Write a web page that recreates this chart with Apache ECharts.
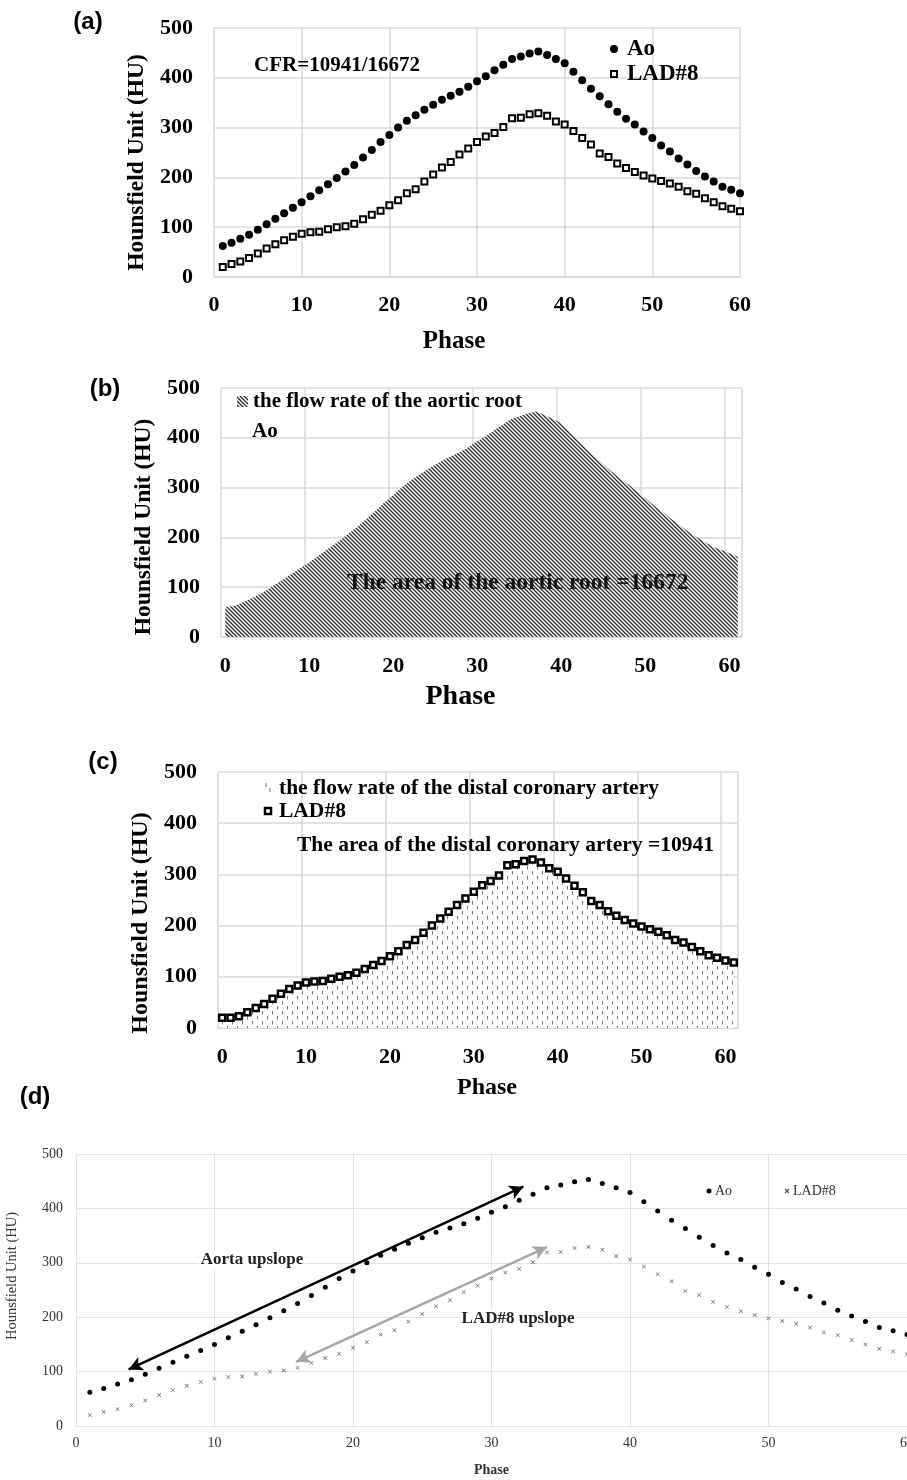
<!DOCTYPE html>
<html>
<head>
<meta charset="utf-8">
<script src="https://cdn.jsdelivr.net/npm/echarts@6.0.0/dist/echarts.min.js"></script>
<style>
  html, body { margin: 0; padding: 0; background: #fff; }
  #main { width: 907px; height: 1480px; }
</style>
</head>
<body>
<div id="main"></div>
<script>
// phases 1..60 (panels a and d)
const phases = [1, 2, 3, 4, 5, 6, 7, 8, 9, 10, 11, 12, 13, 14, 15, 16, 17, 18, 19, 20,
  21, 22, 23, 24, 25, 26, 27, 28, 29, 30, 31, 32, 33, 34, 35, 36, 37, 38, 39, 40,
  41, 42, 43, 44, 45, 46, 47, 48, 49, 50, 51, 52, 53, 54, 55, 56, 57, 58, 59, 60]

// aortic root (Ao), HU
const aoHU = [62, 69, 77, 85, 95, 106, 117, 128, 139, 150, 162, 174, 186, 199, 212, 225, 240, 255, 271, 285,
  300, 314, 325, 336, 346, 356, 364, 372, 382, 393, 403, 415, 426, 438, 443, 449, 453, 446, 438, 429,
  412, 395, 378, 363, 347, 332, 318, 306, 292, 279, 264, 252, 238, 226, 213, 202, 192, 181, 175, 168]

// distal coronary artery (LAD#8), HU
const ladHU = [20, 26, 31, 38, 47, 57, 66, 74, 81, 87, 90, 91, 96, 100, 102, 107, 116, 125, 133, 144,
  154, 168, 176, 192, 206, 220, 231, 246, 258, 271, 282, 289, 301, 319, 320, 327, 329, 324, 312, 306,
  293, 279, 266, 248, 241, 228, 219, 211, 204, 198, 193, 188, 181, 172, 167, 158, 150, 142, 137, 132]

// panels b and c use a category axis 0..61
const areaCats = [0, 1, 2, 3, 4, 5, 6, 7, 8, 9, 10, 11, 12, 13, 14, 15, 16, 17, 18, 19, 20,
  21, 22, 23, 24, 25, 26, 27, 28, 29, 30, 31, 32, 33, 34, 35, 36, 37, 38, 39, 40,
  41, 42, 43, 44, 45, 46, 47, 48, 49, 50, 51, 52, 53, 54, 55, 56, 57, 58, 59, 60, 61]

const aoAreaHU = [60, 62, 69, 77, 85, 95, 106, 117, 128, 139, 150, 162, 174, 186, 199, 212, 225, 240, 255, 271, 285,
  300, 314, 325, 336, 346, 356, 364, 372, 382, 393, 403, 415, 426, 438, 443, 449, 453, 446, 438, 429,
  412, 395, 378, 363, 347, 332, 318, 306, 292, 279, 264, 252, 238, 226, 213, 202, 192, 181, 175, 168, 161]

const ladAreaHU = [20, 20, 23, 31, 39, 47, 57, 67, 76, 83, 89, 91, 92, 96, 100, 103, 108, 115, 123, 131, 140,
  150, 162, 172, 186, 200, 214, 227, 240, 253, 266, 279, 287, 298, 318, 320, 326, 329, 323, 312, 305,
  292, 278, 265, 248, 240, 228, 219, 211, 204, 198, 193, 188, 181, 172, 167, 158, 150, 142, 137, 132, 128]

// upslope arrows in panel d (phase, HU)
const aoUpslope = [[3.8, 104], [32.3, 440]]
const ladUpslope = [[15.9, 118], [34.0, 329]]

const serif = 'Liberation Serif'
const gridColor = '#d9d9d9'

function hatchCanvas() {
  const c = document.createElement('canvas')
  c.width = 4
  c.height = 4
  const g = c.getContext('2d')
  g.fillStyle = '#fff'
  g.fillRect(0, 0, 4, 4)
  g.strokeStyle = '#2e2e2e'
  g.lineWidth = 1.3
  g.beginPath()
  g.moveTo(-1, -1); g.lineTo(5, 5)
  g.moveTo(-1, 3); g.lineTo(1, 5)
  g.moveTo(3, -1); g.lineTo(5, 1)
  g.stroke()
  return c
}

function dashCanvas() {
  const c = document.createElement('canvas')
  c.width = 10
  c.height = 10
  const g = c.getContext('2d')
  g.fillStyle = '#fff'
  g.fillRect(0, 0, 10, 10)
  g.strokeStyle = '#777'
  g.lineWidth = 1
  g.beginPath()
  g.moveTo(2.5, 1); g.lineTo(2.5, 4.5)
  g.moveTo(7.5, 6); g.lineTo(7.5, 9.5)
  g.stroke()
  return c
}

const hatch = { image: hatchCanvas(), repeat: 'repeat' }
const dashes = { image: dashCanvas(), repeat: 'repeat' }

function boldLabel(size, margin) {
  return { margin: margin, fontFamily: serif, fontWeight: 'bold', fontSize: size, color: '#000' }
}

function yAxisBold(gridIndex, nameGap, pad, nameSize) {
  return {
    gridIndex: gridIndex,
    type: 'value',
    min: 0,
    max: 500,
    interval: 100,
    axisLine: { show: false },
    axisTick: { show: false },
    splitLine: { lineStyle: { color: gridColor, width: 1.5 } },
    axisLabel: boldLabel(22, 21),
    name: 'Hounsfield Unit (HU)',
    nameLocation: 'middle',
    nameGap: nameGap,
    nameTextStyle: { fontFamily: serif, fontWeight: 'bold', fontSize: nameSize, color: '#000', padding: pad }
  }
}

function catAxis(gridIndex, nameSize, nameGap, pad) {
  return {
    gridIndex: gridIndex,
    type: 'category',
    data: areaCats,
    boundaryGap: true,
    axisLine: { lineStyle: { color: gridColor, width: 1.5 } },
    axisTick: { show: false },
    splitLine: { show: true, interval: 9, lineStyle: { color: gridColor, width: 1.5 } },
    axisLabel: Object.assign({ interval: 9 }, boldLabel(22, 18)),
    name: 'Phase',
    nameLocation: 'middle',
    nameGap: nameGap,
    nameTextStyle: { fontFamily: serif, fontWeight: 'bold', fontSize: nameSize, color: '#000', padding: pad }
  }
}

function text(x, y, str, font, extra) {
  return {
    type: 'text',
    z: 100,
    x: x,
    y: y,
    style: Object.assign({ text: str, font: font, fill: '#000', verticalAlign: 'middle' }, extra || {})
  }
}

const chart = echarts.init(document.getElementById('main'))

chart.setOption({
  backgroundColor: '#fff',
  animation: false,
  grid: [
    { left: 214, top: 28, width: 526, height: 249, outerBoundsMode: 'none' },
    { left: 221, top: 388, width: 521, height: 249, outerBoundsMode: 'none' },
    { left: 218, top: 772, width: 520, height: 256, outerBoundsMode: 'none' },
    { left: 76, top: 1154, width: 831, height: 272, outerBoundsMode: 'none' }
  ],
  xAxis: [
    {
      gridIndex: 0,
      type: 'value',
      min: 0,
      max: 60,
      interval: 10,
      axisLine: { lineStyle: { color: gridColor, width: 1.5 } },
      axisTick: { show: false },
      splitLine: { lineStyle: { color: gridColor, width: 1.5 } },
      axisLabel: boldLabel(22, 17),
      name: 'Phase',
      nameLocation: 'middle',
      nameGap: 52,
      nameTextStyle: { fontFamily: serif, fontWeight: 'bold', fontSize: 25, color: '#000', padding: [0, 46, 0, 0] }
    },
    catAxis(1, 28, 46, [0, 42, 0, 0]),
    catAxis(2, 24, 48, [0, 0, 0, 18]),
    {
      gridIndex: 3,
      type: 'value',
      min: 0,
      max: 60,
      interval: 10,
      axisLine: { lineStyle: { color: '#e3e3e3' } },
      axisTick: { show: false },
      splitLine: { lineStyle: { color: '#e3e3e3' } },
      axisLabel: { margin: 10, fontFamily: serif, fontSize: 14, color: '#333' },
      name: 'Phase',
      nameLocation: 'middle',
      nameGap: 37,
      nameTextStyle: { fontFamily: serif, fontWeight: 'bold', fontSize: 14, color: '#333' }
    }
  ],
  yAxis: [
    yAxisBold(0, 60, [0, 20, 0, 0], 23.5),
    yAxisBold(1, 56, [0, 29, 0, 0], 23.5),
    yAxisBold(2, 56, [0, 46, 0, 0], 24),
    {
      gridIndex: 3,
      type: 'value',
      min: 0,
      max: 500,
      interval: 100,
      axisLine: { show: false },
      axisTick: { show: false },
      splitLine: { lineStyle: { color: '#e3e3e3' } },
      axisLabel: { margin: 13, fontFamily: serif, fontSize: 14, color: '#333' },
      name: 'Hounsfield Unit (HU)',
      nameLocation: 'middle',
      nameGap: 56,
      nameTextStyle: { fontFamily: serif, fontSize: 14.5, color: '#333', padding: [0, 0, 0, 28] }
    }
  ],
  series: [
    // (a)
    {
      name: 'Ao',
      type: 'scatter',
      xAxisIndex: 0,
      yAxisIndex: 0,
      data: phases.map((p, i) => [p, aoHU[i]]),
      symbol: 'circle',
      symbolSize: 8,
      itemStyle: { color: '#000', opacity: 1 }
    },
    {
      name: 'LAD#8',
      type: 'scatter',
      xAxisIndex: 0,
      yAxisIndex: 0,
      data: phases.map((p, i) => [p, ladHU[i]]),
      symbol: 'rect',
      symbolSize: 6,
      itemStyle: { color: '#fff', borderColor: '#000', borderWidth: 2, opacity: 1 }
    },
    // (b)
    {
      name: 'the flow rate of the aortic root',
      type: 'line',
      xAxisIndex: 1,
      yAxisIndex: 1,
      data: aoAreaHU,
      showSymbol: false,
      lineStyle: { width: 0 },
      areaStyle: { color: hatch, opacity: 1 }
    },
    // (c)
    {
      name: 'the flow rate of the distal coronary artery',
      type: 'line',
      xAxisIndex: 2,
      yAxisIndex: 2,
      data: ladAreaHU,
      showAllSymbol: true,
      symbol: 'rect',
      symbolSize: 6,
      lineStyle: { width: 0 },
      itemStyle: { color: '#fff', borderColor: '#000', borderWidth: 2.5 },
      areaStyle: { color: dashes, opacity: 1 }
    },
    // (d)
    {
      name: 'Ao',
      type: 'scatter',
      xAxisIndex: 3,
      yAxisIndex: 3,
      data: phases.map((p, i) => [p, aoHU[i]]),
      symbol: 'circle',
      symbolSize: 5,
      itemStyle: { color: '#000', opacity: 1 },
      markLine: {
        silent: true,
        symbol: ['arrow', 'arrow'],
        symbolSize: [11, 14],
        label: { show: false },
        lineStyle: { color: '#000', width: 2.5, type: 'solid' },
        data: [[{ coord: aoUpslope[0] }, { coord: aoUpslope[1] }]]
      }
    },
    {
      name: 'LAD#8',
      type: 'scatter',
      xAxisIndex: 3,
      yAxisIndex: 3,
      data: phases.map((p, i) => [p, ladHU[i]]),
      symbol: 'path://M0,1L1,0L5,4L9,0L10,1L6,5L10,9L9,10L5,6L1,10L0,9L4,5Z',
      symbolSize: 4,
      itemStyle: { color: '#555', opacity: 1 },
      markLine: {
        silent: true,
        symbol: ['arrow', 'arrow'],
        symbolSize: [11, 14],
        label: { show: false },
        lineStyle: { color: '#a6a6a6', width: 2.5, type: 'solid' },
        data: [[{ coord: ladUpslope[0] }, { coord: ladUpslope[1] }]]
      }
    }
  ],
  graphic: [
    // panel letters
    text(88, 22, '(a)', 'bold 24px "Liberation Sans"', { align: 'center' }),
    text(105, 389, '(b)', 'bold 24px "Liberation Sans"', { align: 'center' }),
    text(103, 762, '(c)', 'bold 24px "Liberation Sans"', { align: 'center' }),
    text(35, 1097, '(d)', 'bold 24px "Liberation Sans"', { align: 'center' }),

    // (a) annotations and legend
    text(254, 66, 'CFR=10941/16672', 'bold 21px "Liberation Serif"'),
    { type: 'circle', z: 100, shape: { cx: 614, cy: 49, r: 4 }, style: { fill: '#000' } },
    text(627, 49, 'Ao', 'bold 23px "Liberation Serif"'),
    { type: 'rect', z: 100, shape: { x: 611, y: 71, width: 6, height: 6 }, style: { fill: '#fff', stroke: '#000', lineWidth: 2 } },
    text(627, 74, 'LAD#8', 'bold 23px "Liberation Serif"'),

    // (b) legend and area text
    { type: 'rect', z: 100, shape: { x: 237, y: 396, width: 11, height: 11 }, style: { fill: hatch } },
    text(253, 402, 'the flow rate of the aortic root', 'bold 21px "Liberation Serif"'),
    text(252, 432, 'Ao', 'bold 21px "Liberation Serif"'),
    text(347, 583, 'The area of the aortic root =16672', 'bold 23.5px "Liberation Serif"', { fill: '#111' }),

    // (c) legend and area text
    { type: 'line', z: 100, shape: { x1: 266, y1: 783, x2: 266, y2: 787 }, style: { stroke: '#888', lineWidth: 1.2 } },
    { type: 'line', z: 100, shape: { x1: 270, y1: 788, x2: 270, y2: 792 }, style: { stroke: '#888', lineWidth: 1.2 } },
    text(279, 788, 'the flow rate of the distal coronary artery', 'bold 21.5px "Liberation Serif"'),
    { type: 'rect', z: 100, shape: { x: 265, y: 808, width: 6, height: 6 }, style: { fill: '#fff', stroke: '#000', lineWidth: 2.5 } },
    text(279, 811, 'LAD#8', 'bold 21.5px "Liberation Serif"'),
    text(297, 845, 'The area of the distal coronary artery =10941', 'bold 21.5px "Liberation Serif"'),

    // (d) legend and arrow labels
    { type: 'circle', z: 100, shape: { cx: 709, cy: 1191, r: 2.5 }, style: { fill: '#000' } },
    text(715, 1191, 'Ao', '14px "Liberation Serif"', { fill: '#333' }),
    { type: 'line', z: 100, shape: { x1: 785, y1: 1189, x2: 789, y2: 1193 }, style: { stroke: '#555', lineWidth: 1.2 } },
    { type: 'line', z: 100, shape: { x1: 789, y1: 1189, x2: 785, y2: 1193 }, style: { stroke: '#555', lineWidth: 1.2 } },
    text(793, 1191, 'LAD#8', '14px "Liberation Serif"', { fill: '#333' }),
    text(252, 1260, 'Aorta upslope', 'bold 17px "Liberation Serif"', { align: 'center', fill: '#222', backgroundColor: '#fff', padding: [1, 2] }),
    text(518, 1319, 'LAD#8 upslope', 'bold 17px "Liberation Serif"', { align: 'center', fill: '#222', backgroundColor: '#fff', padding: [1, 2] })
  ]
})
</script>
</body>
</html>
